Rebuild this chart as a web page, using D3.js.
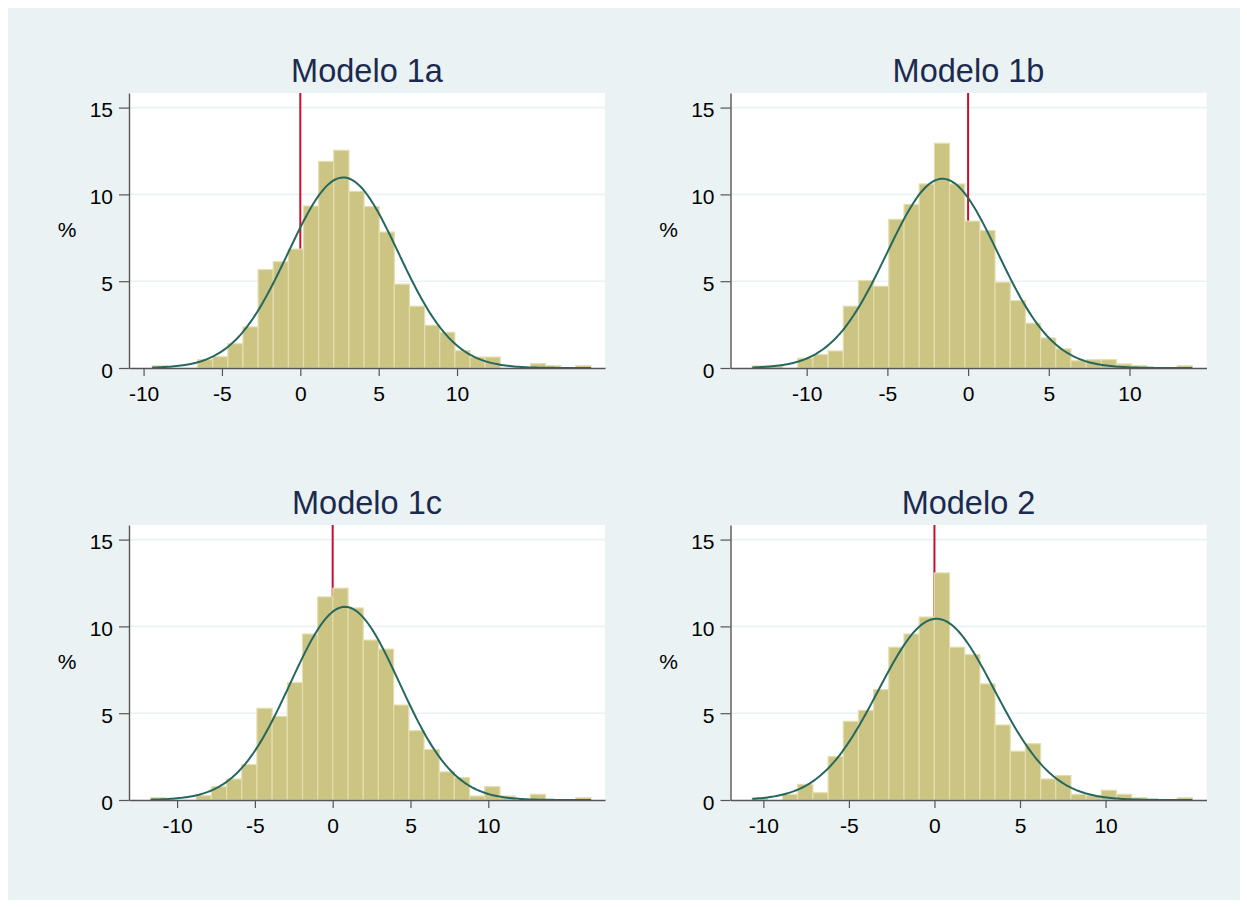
<!DOCTYPE html>
<html>
<head>
<meta charset="utf-8">
<script src="https://cdn.jsdelivr.net/npm/d3@7"></script>
<style>
    body { margin: 0; background: #fff; }
    svg { display: block; }
    text { font-family: "Liberation Sans", Arial, Helvetica, sans-serif; }
</style>
</head>
<body>
<svg id="chart" width="1247" height="907"></svg>
<script>
// panel titles
const titles = ["Modelo 1a", "Modelo 1b", "Modelo 1c", "Modelo 2"];

// histogram bins: first edge and width (29 bins each)
const binStart = [-9.45, -13.37, -11.70, -10.65];
const binWidth = [0.9655, 0.940, 0.976, 0.887];

// bar heights in percent
const pct1a = [0.12, 0, 0, 0.48, 0.65, 1.4, 2.37, 5.67, 6.12, 6.85, 9.33, 11.9, 12.54, 10.17, 9.3,
               7.83, 4.83, 3.56, 2.46, 2.06, 1.0, 0.63, 0.63, 0, 0, 0.25, 0.13, 0, 0.13];
const pct1b = [0.12, 0.12, 0, 0.56, 0.77, 0.98, 3.56, 5.04, 4.71, 8.56, 9.42, 10.6, 12.94, 10.6, 8.46,
               7.92, 4.94, 3.88, 2.58, 1.73, 1.1, 0.42, 0.48, 0.48, 0.23, 0.13, 0, 0, 0.13];
const pct1c = [0.13, 0, 0, 0.25, 0.77, 1.21, 2.04, 5.28, 4.82, 6.76, 9.56, 11.7, 12.2, 11.06, 9.21,
               8.69, 5.47, 3.99, 2.91, 1.62, 1.29, 0.23, 0.77, 0.23, 0, 0.33, 0, 0, 0.13];
const pct2  = [0.1, 0, 0.33, 0.9, 0.42, 2.5, 4.53, 5.16, 6.36, 8.8, 9.56, 10.54, 13.08, 8.8, 8.38,
               6.69, 4.32, 2.81, 3.24, 1.21, 1.41, 0.33, 0.25, 0.56, 0.33, 0.13, 0, 0, 0.13];
const heights = [pct1a, pct1b, pct1c, pct2];

// normal overlay parameters
const normMean = [2.74, -1.59, 0.79, 0.12];
const normSd = [3.51, 3.44, 3.50, 3.39];

// axis ranges and ticks
const xDomains = [[-10.93, 19.44], [-14.72, 14.77], [-13.09, 17.5], [-11.92, 15.9]];
const yMax = 15.84;
const xTicks = [-10, -5, 0, 5, 10];
const yTicks = [0, 5, 10, 15];

const svg = d3.select("#chart");

svg.append("rect")
    .attr("x", 8).attr("y", 8)
    .attr("width", 1232).attr("height", 892)
    .attr("fill", "#eaf2f3");

const plotW = 476, plotH = 275;
const cols = [129, 730.5];
const rows = [93, 525];

titles.forEach(function(title, k) {
    const left = cols[k % 2];
    const top = rows[Math.floor(k / 2)];
    const g = svg.append("g").attr("transform", `translate(${left},${top})`);

    const x = d3.scaleLinear().domain(xDomains[k]).range([0, plotW]);
    const y = d3.scaleLinear().domain([0, yMax]).range([plotH, 0]);

    // plot region
    g.append("rect")
        .attr("width", plotW).attr("height", plotH)
        .attr("fill", "#ffffff");

    // grid lines
    g.selectAll(".grid")
        .data(yTicks.filter(d => d > 0))
        .enter().append("line")
        .attr("x1", 0).attr("x2", plotW)
        .attr("y1", d => y(d)).attr("y2", d => y(d))
        .attr("stroke", "#eaf2f3")
        .attr("stroke-width", 1.6);

    // reference line at zero (behind the bars)
    g.append("line")
        .attr("x1", x(0)).attr("x2", x(0))
        .attr("y1", y(0)).attr("y2", y(yMax))
        .attr("stroke", "#c8102e")
        .attr("stroke-width", 2);

    // bars
    const bins = heights[k].map((h, i) => ({
        x0: binStart[k] + i * binWidth[k],
        x1: binStart[k] + (i + 1) * binWidth[k],
        h: h
    }));
    g.selectAll(".bar")
        .data(bins.filter(d => d.h > 0))
        .enter().append("rect")
        .attr("x", d => x(d.x0))
        .attr("width", d => x(d.x1) - x(d.x0))
        .attr("y", d => y(d.h))
        .attr("height", d => y(0) - y(d.h))
        .attr("fill", "#cbc482")
        .attr("stroke", "#e3deae")
        .attr("stroke-width", 1.2);

    // normal density scaled to bin percent
    const lo = binStart[k], hi = binStart[k] + heights[k].length * binWidth[k];
    const pts = d3.range(0, 201).map(i => {
        const v = lo + (hi - lo) * i / 200;
        const z = (v - normMean[k]) / normSd[k];
        return [v, 100 * binWidth[k] * Math.exp(-0.5 * z * z) / (normSd[k] * Math.sqrt(2 * Math.PI))];
    });
    g.append("path")
        .datum(pts)
        .attr("fill", "none")
        .attr("stroke", "#26675f")
        .attr("stroke-width", 2)
        .attr("d", d3.line().x(d => x(d[0])).y(d => y(d[1])));

    // axes (plain hyphen for negative labels)
    const fmt = d => String(d);
    const yAxis = g.append("g")
        .call(d3.axisLeft(y).tickValues(yTicks).tickFormat(fmt)
            .tickSize(10).tickSizeOuter(0).tickPadding(6));
    const xAxis = g.append("g")
        .attr("transform", `translate(0,${plotH})`)
        .call(d3.axisBottom(x).tickValues(xTicks).tickFormat(fmt)
            .tickSize(8).tickSizeOuter(0).tickPadding(10));

    [yAxis, xAxis].forEach(a => {
        a.select(".domain").attr("stroke", "#555").attr("stroke-width", 1.4);
        a.selectAll(".tick line").attr("stroke", "#555").attr("stroke-width", 1.2);
        a.selectAll("text").attr("fill", "#000").style("font-size", "21px")
            .style("font-family", '"Liberation Sans", Arial, sans-serif');
    });
    yAxis.selectAll("text").attr("dy", "0.44em");

    // axis title
    g.append("text")
        .attr("x", -62)
        .attr("y", 143.7)
        .attr("text-anchor", "middle")
        .style("font-size", "21px")
        .attr("fill", "#000")
        .text("%");

    // panel title
    g.append("text")
        .attr("x", plotW / 2)
        .attr("y", -11.3)
        .attr("text-anchor", "middle")
        .style("font-size", "32.5px")
        .attr("fill", "#1b2a4e")
        .text(title);
});
</script>
</body>
</html>
